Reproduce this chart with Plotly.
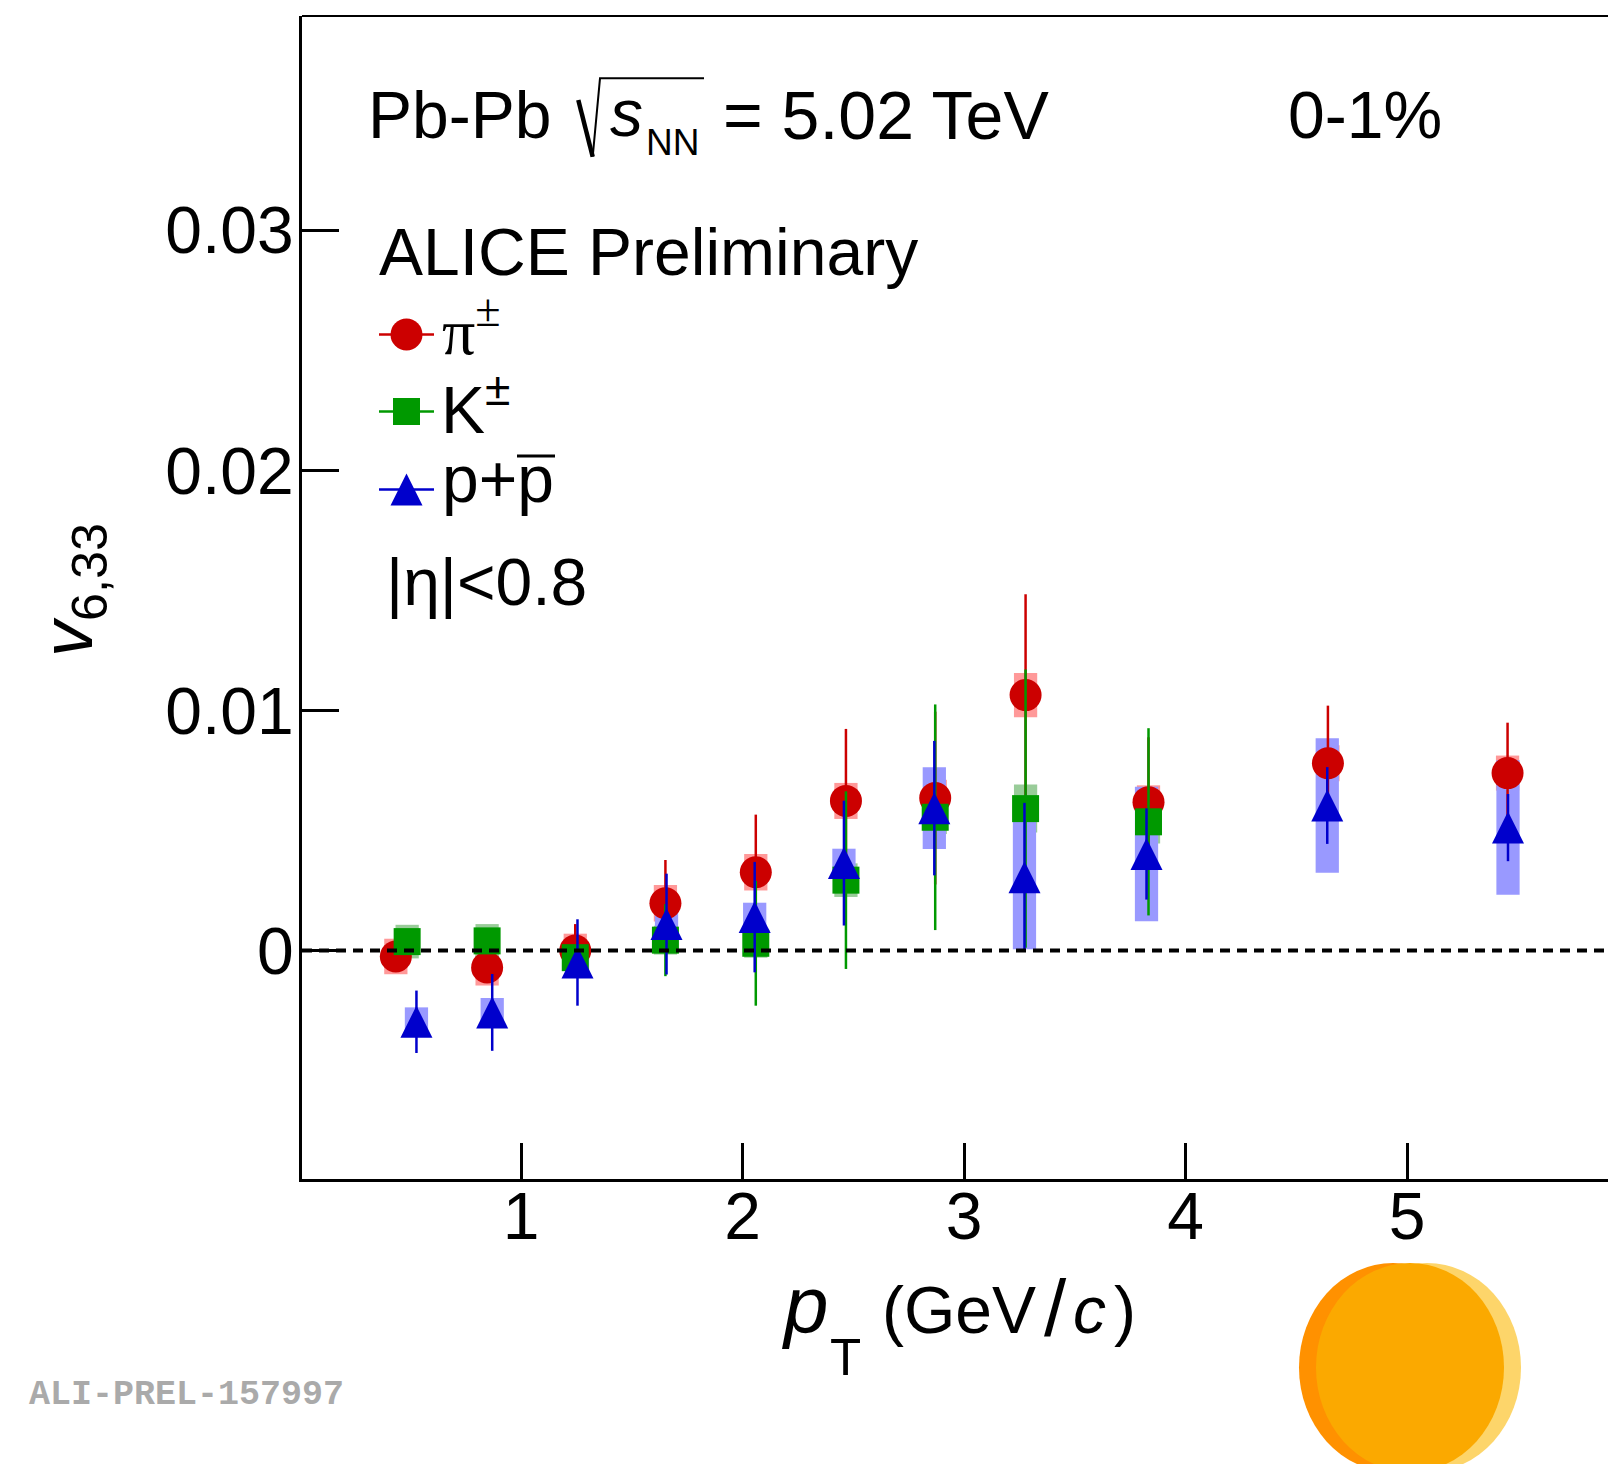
import plotly.graph_objects as go

W, H = 1608, 1464
ML, MR, MT, MB = 302, 0, 16, 285
PW = W - ML - MR
PH = H - MT - MB


def px(X):
    return (X - ML) / PW


def py(Y):
    return (H - MB - Y) / PH


FONT = "Liberation Sans"

# ---------------- data ----------------
pi_x = [0.435, 0.847, 1.245, 1.652, 2.06, 2.467, 2.870, 3.278, 3.833, 4.643, 5.454]
pi_y = [-0.00025, -0.00071, 0.0, 0.00197, 0.00326, 0.00623, 0.00635, 0.01064, 0.00618, 0.0078, 0.00739]
pi_stat = [0.0004, 0.0004, 0.0011, 0.0018, 0.0024, 0.0030, 0.0036, 0.0042, 0.0027, 0.0024, 0.0021]
pi_sys = [0.00074, 0.00075, 0.0007, 0.00076, 0.00076, 0.00075, 0.00076, 0.00092, 0.0007, 0.00075, 0.00073]

k_x = [0.486, 0.847, 1.245, 1.652, 2.06, 2.467, 2.870, 3.278, 3.833]
k_y = [0.00037, 0.0004, -0.0003, 0.00043, 0.0003, 0.00293, 0.00555, 0.00591, 0.00536]
k_stat = [0.0003, 0.0003, 0.0004, 0.0015, 0.0026, 0.0037, 0.0047, 0.0058, 0.0039]
k_sys = [0.0007, 0.0007, 0.0005, 0.0006, 0.0006, 0.0007, 0.0007, 0.001, 0.0009]

p_x = [0.528, 0.87, 1.255, 1.657, 2.055, 2.458, 2.866, 3.273, 3.824, 4.640, 5.456]
p_y = [-0.00297, -0.00258, -0.0005, 0.0011, 0.00139, 0.00364, 0.00593, 0.00305, 0.00402, 0.00604, 0.00512]
p_stat = [0.0013, 0.0016, 0.0018, 0.0021, 0.0023, 0.0026, 0.0028, 0.0031, 0.0019, 0.0016, 0.0014]
p_sys = [0.0006, 0.0006, 0.0006, 0.0006, 0.0006, 0.0006, 0.0017, 0.0030, 0.0028, 0.0028, 0.0028]

x_ticks = [1, 2, 3, 4, 5]
y_ticks = [0, 0.01, 0.02, 0.03]
y_ticktext = ["0", "0.01", "0.02", "0.03"]

RED, GREEN, BLUE = "#CC0000", "#009900", "#0000CC"
RED_L, GREEN_L, BLUE_L = "#FF9999", "#99CC99", "#9999FF"

series = [
    ("π±", pi_x, pi_y, pi_stat, pi_sys, RED, RED_L, dict(symbol="circle", size=32)),
    ("K±", k_x, k_y, k_stat, k_sys, GREEN, GREEN_L, dict(symbol="square", size=27)),
    ("p+p̄", p_x, p_y, p_stat, p_sys, BLUE, BLUE_L,
     dict(symbol="arrow-down", angle=180, standoff=16, size=32)),
]

fig = go.Figure()

# systematic boxes
for name, x, y, st, sy, col, lcol, mk in series:
    fig.add_trace(go.Bar(
        x=x, y=[2 * s for s in sy], base=[v - s for v, s in zip(y, sy)],
        width=0.105, marker=dict(color=lcol, line=dict(width=0)),
        showlegend=False, hoverinfo="skip"))

# points with statistical errors
for name, x, y, st, sy, col, lcol, mk in series:
    fig.add_trace(go.Scatter(
        x=x, y=y, mode="markers", name=name,
        marker=dict(color=col, line=dict(width=0), **mk),
        error_y=dict(type="data", array=st, visible=True, color=col,
                     thickness=2.5, width=0),
        showlegend=False))

# legend glyphs (overlay axes in pixel units)
leg_rows = [(334.5, 0), (411.5, 1), (489.5, 2)]
for yy, i in leg_rows:
    name, x, y, st, sy, col, lcol, mk = series[i]
    fig.add_trace(go.Scatter(x=[379, 434], y=[yy, yy], mode="lines",
                             line=dict(color=col, width=2.5),
                             xaxis="x2", yaxis="y2", showlegend=False, hoverinfo="skip"))
    fig.add_trace(go.Scatter(x=[406.5], y=[yy], mode="markers",
                             marker=dict(color=col, line=dict(width=0), **mk),
                             xaxis="x2", yaxis="y2", showlegend=False, hoverinfo="skip"))

anns = []


def ann(text, X, Y, size, family=FONT, color="black", xanchor="left", angle=0, yanchor="middle"):
    anns.append(dict(text=text, x=px(X), y=py(Y), xref="paper", yref="paper",
                     xanchor=xanchor, yanchor=yanchor, showarrow=False, textangle=angle,
                     font=dict(family=family, size=size, color=color)))


# header
ann("Pb-Pb", 366, 114.6, 66)
ann("<i>s</i>", 608, 113, 66)
ann("NN", 644, 142.2, 37)
ann("= 5.02 TeV", 721, 114.6, 68)
ann("0-1%", 1286, 114.6, 66)
ann("ALICE Preliminary", 377, 251.6, 66)
ann("π<sup>±</sup>", 440, 326, 66, family="Liberation Serif")
ann("K<sup>±</sup>", 439, 405, 66)
ann("p+p", 440, 479, 66)
ann("|η|<0.8", 384, 581.7, 66)

# axis titles
ann("<i>p</i>", 780, 1304.3, 80)
ann("T", 828, 1357.3, 51)
ann("(GeV", 880, 1310, 66)
ann("/", 1042, 1308, 80)
ann("<i>c</i>", 1071, 1310, 66)
ann(")", 1112, 1310, 66)
ann("<i>v</i><sub>6,33</sub>", 72, 590, 72, xanchor="center", angle=-90)

# watermark
ann("<b>ALI-PREL-157997</b>", 27, 1395, 35, family="Liberation Mono", color="#AAAAAA")

shapes = []
# zero line
shapes.append(dict(type="line", xref="paper", yref="y", x0=0, x1=1, y0=0, y1=0,
                   line=dict(color="black", width=4, dash="10px,7px"), layer="above"))
# top frame
shapes.append(dict(type="line", xref="paper", yref="paper", x0=0, x1=1, y0=1, y1=1,
                   line=dict(color="black", width=2)))
# radical sign
shapes.append(dict(type="line", xref="paper", yref="paper", x0=px(578.3), y0=py(100),
                   x1=px(592.7), y1=py(156.7), line=dict(color="black", width=4.5)))
shapes.append(dict(type="path", xref="paper", yref="paper",
                   path=f"M{px(592.7)},{py(156.7)} L{px(600)},{py(78.3)} L{px(704)},{py(78.3)}",
                   line=dict(color="black", width=2)))
# antiproton bar
shapes.append(dict(type="line", xref="paper", yref="paper", x0=px(517), x1=px(555),
                   y0=py(456), y1=py(456), line=dict(color="black", width=3)))
# logo
for x0, x1, c in [(1299, 1487, "#FF9100"), (1333, 1521, "#FDD56A"), (1316, 1504, "#FBA900")]:
    shapes.append(dict(type="circle", xref="paper", yref="paper",
                       x0=px(x0), x1=px(x1), y0=py(1263), y1=py(1472),
                       fillcolor=c, line=dict(width=0), layer="above"))

fig.update_layout(
    width=W, height=H, margin=dict(l=ML, r=MR, t=MT, b=MB, pad=0),
    paper_bgcolor="white", plot_bgcolor="white",
    barmode="overlay", showlegend=False,
    font=dict(family=FONT, color="black"),
    xaxis=dict(range=[(ML - 299.5) / 221.5, (W - 299.5) / 221.5], showgrid=False, zeroline=False,
               showline=True, linecolor="black", linewidth=3,
               ticks="inside", ticklen=36, tickwidth=2.5, tickcolor="black",
               ticklabelstandoff=-22,
               tickvals=x_ticks, tickfont=dict(size=66, family=FONT)),
    yaxis=dict(range=[-0.00952, 0.03893], showgrid=False, zeroline=False,
               showline=True, linecolor="black", linewidth=3,
               ticks="inside", ticklen=37, tickwidth=2.5, tickcolor="black",
               ticklabelstandoff=-8,
               tickvals=y_ticks, ticktext=y_ticktext, tickfont=dict(size=66, family=FONT)),
    xaxis2=dict(overlaying="x", anchor="y2", range=[ML, W], visible=False),
    yaxis2=dict(overlaying="y", anchor="x2", range=[H - MB, MT], visible=False),
    annotations=anns, shapes=shapes,
)

fig.write_html("out.html", config=dict(displayModeBar=False))
